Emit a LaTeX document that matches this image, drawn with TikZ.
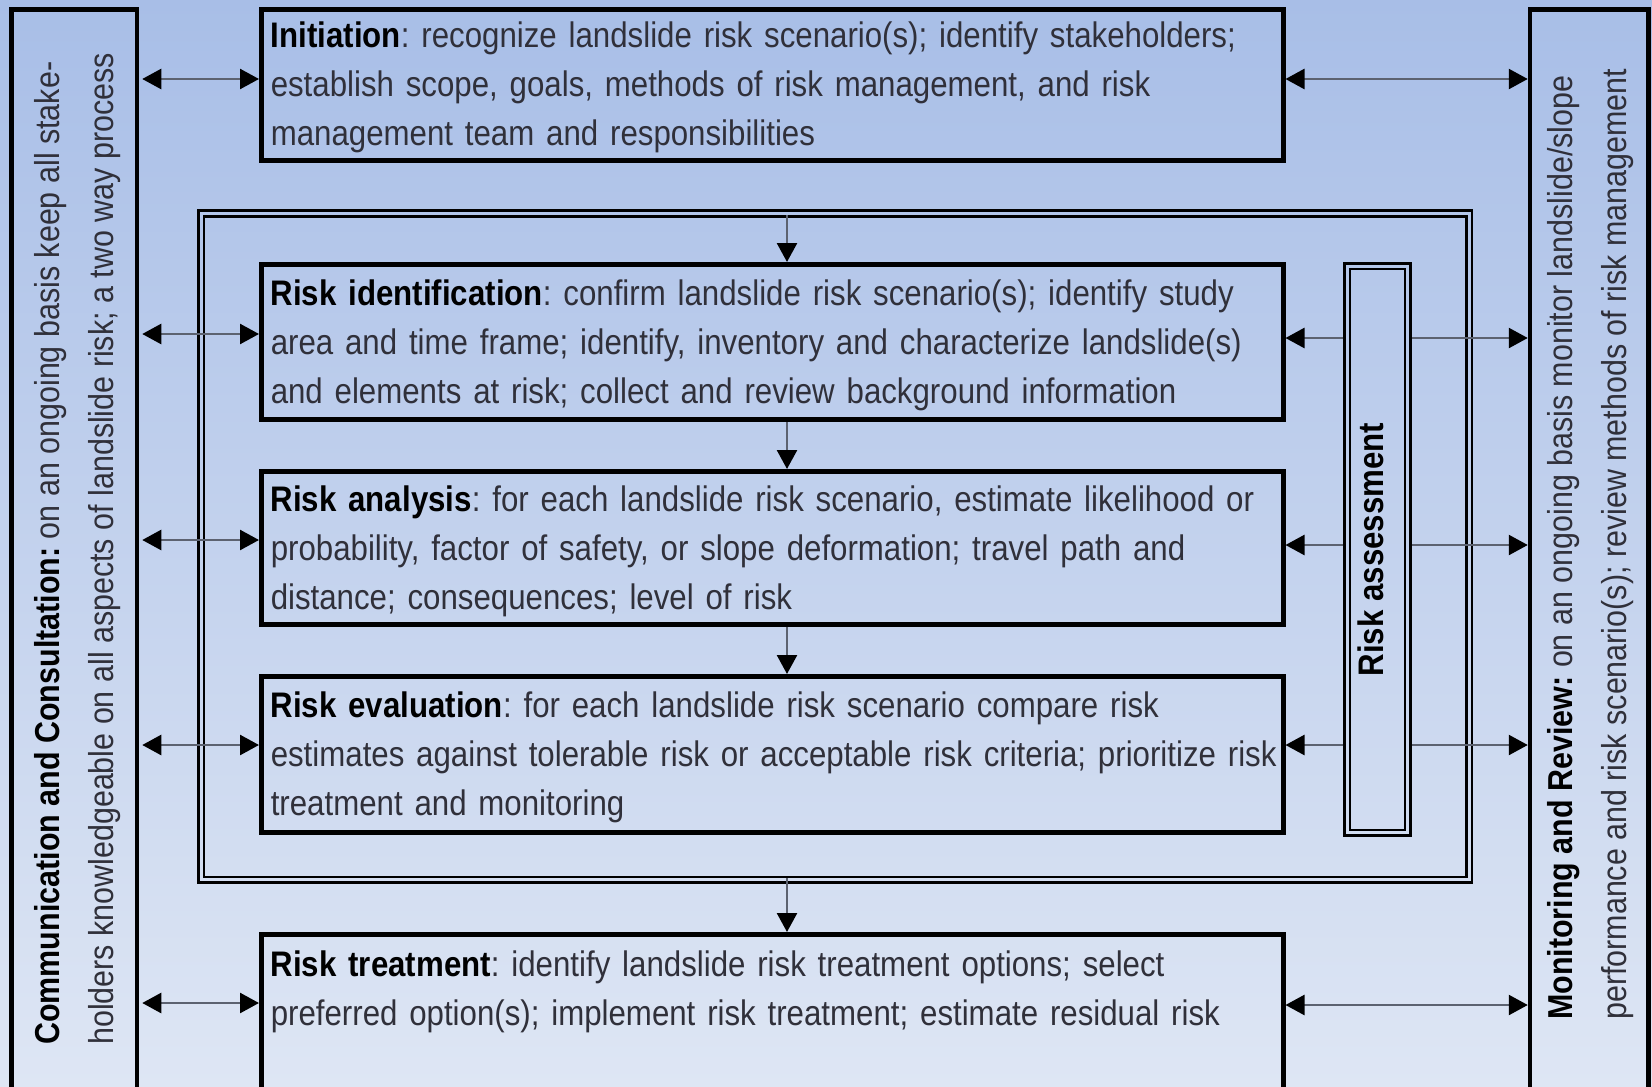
\documentclass[tikz,border=0pt]{standalone}
\usepackage{fontspec}
\setmainfont{Liberation Sans}[FakeStretch=0.88]
\usepackage{graphicx}
\usetikzlibrary{arrows.meta}
\definecolor{bgtop}{RGB}{168,190,231}
\definecolor{bgbot}{RGB}{222,230,244}
\definecolor{txt}{RGB}{48,48,58}
\definecolor{arrgray}{RGB}{92,98,112}
\newcommand\hd[1]{\textcolor{black}{\textbf{#1}}}
\newcommand\oneline[1]{\mbox{#1}}
\frenchspacing
\begin{document}
\begin{tikzpicture}[x=1pt,y=-1pt,
  stagebox/.style={draw=black, line width=5pt, minimum width=1021.5pt, text width=1003pt,
    inner xsep=9.25pt, inner ysep=0pt, align=left, text=txt,
    font=\frenchspacing\fontsize{35.5}{49}\selectfont},
  threeline/.style={text height=26pt, text depth=100pt},
  colbox/.style={draw=black, line width=4.5pt, minimum height=1110.5pt, inner sep=0pt},
  sidetext/.style={rotate=90, anchor=base west, inner sep=0pt, align=left, text=txt,
    font=\frenchspacing\fontsize{34.6}{54}\selectfont},
  linkboth/.style={draw=arrgray, line width=2.5pt,
    {Triangle[length=19pt,width=20pt,color=black]}-{Triangle[length=19pt,width=20pt,color=black]}},
  linkto/.style={draw=arrgray, line width=2.5pt, -{Triangle[length=19pt,width=20pt,color=black]}},
]
\useasboundingbox (0,0) rectangle (1652,1087);
\clip (0,0) rectangle (1652,1087);
\shade[top color=bgtop, bottom color=bgbot] (0,0) rectangle (1652,1087);

% side columns
\node[colbox, minimum width=125.5pt] (comm) at (74.25,564.75) {};
\node[colbox, minimum width=118.5pt] (mon) at (1589.25,564.75) {};
% anchor base = baseline of the last line
\node[sidetext] (commtext) at (113,1045) {\hd{Communication and Consultation:} on an ongoing basis keep all stake-\\holders knowledgeable on all aspects of landslide risk; a two way process};
\node[sidetext] (montext) at (1626,1020) {\hd{Monitoring and Review:} on an ongoing basis monitor landslide/slope\\performance and risk scenario(s); review methods of risk management};

% double frame around assessment stages
\node[draw=black, line width=2.8pt, minimum width=1262.5pt, minimum height=660.5pt, inner sep=0pt] (frame) at (835.25,546.75) {};
\draw[line width=2.8pt] (frame.center) +(-636.75,-336) rectangle +(636.75,336);

% risk assessment double box
\node[draw=black, line width=2.5pt, minimum width=66pt, minimum height=572pt, inner sep=0pt,
  font=\fontsize{35.5}{40}\selectfont, text=black] (assess) at (1377.5,549.5)
  {\rotatebox{90}{\textbf{Risk assessment}}\hspace*{14pt}};
\draw[line width=2.5pt] (assess.center) +(-27.5,-280.5) rectangle +(27.5,280.5);

% stage boxes
\node[stagebox, threeline, minimum height=151.5pt] (init) at (772.25,84.75) {\oneline{\hd{Initiation}: recognize landslide risk scenario(s); identify stakeholders;}\\\oneline{establish scope, goals, methods of risk management, and risk}\\\oneline{management team and responsibilities}};
\node[stagebox, threeline, minimum height=155pt] (ident) at (772.25,342) {\oneline{\hd{Risk identification}: confirm landslide risk scenario(s); identify study}\\\oneline{area and time frame; identify, inventory and characterize landslide(s)}\\\oneline{and elements at risk; collect and review background information}};
\node[stagebox, threeline, minimum height=153pt] (anal) at (772.25,548) {\oneline{\hd{Risk analysis}: for each landslide risk scenario, estimate likelihood or}\\\oneline{probability, factor of safety, or slope deformation; travel path and}\\\oneline{distance; consequences; level of risk}};
\node[stagebox, threeline, minimum height=156pt] (eval) at (772.25,754.5) {\oneline{\hd{Risk evaluation}: for each landslide risk scenario compare risk}\\\oneline{estimates against tolerable risk or acceptable risk criteria; prioritize risk}\\\oneline{treatment and monitoring}};
\node[stagebox, minimum height=175.5pt, text height=42pt, text depth=133.5pt, anchor=north] (treat) at (772.25,932) {\oneline{\hd{Risk treatment}: identify landslide risk treatment options; select}\\\oneline{preferred option(s); implement risk treatment; estimate residual risk}};

% connectors
\coordinate (ax) at (787,0);
\draw[linkto] (frame.north -| ax) -- (ident.north -| ax);
\draw[linkto] (ident.south -| ax) -- (anal.north -| ax);
\draw[linkto] (anal.south -| ax) -- (eval.north -| ax);
\draw[linkto] (frame.south -| ax) -- (treat.north -| ax);

\coordinate (l1) at (0,79);   \coordinate (r1) at (0,79);
\coordinate (l2) at (0,334);  \coordinate (r2) at (0,338);
\coordinate (l3) at (0,540);  \coordinate (r3) at (0,545);
\coordinate (l4) at (0,745);  \coordinate (r4) at (0,745);
\coordinate (l5) at (0,1003); \coordinate (r5) at (0,1005);

\draw[linkboth, shorten <=3pt] (comm.east |- l1) -- (init.west |- l1);
\draw[linkboth, shorten <=3pt] (comm.east |- l2) -- (ident.west |- l2);
\draw[linkboth, shorten <=3pt] (comm.east |- l3) -- (anal.west |- l3);
\draw[linkboth, shorten <=3pt] (comm.east |- l4) -- (eval.west |- l4);
\draw[linkboth, shorten <=3pt] (comm.east |- l5) -- (treat.west |- l5);

\draw[linkboth] (init.east |- r1) -- (mon.west |- r1);
\draw[linkto] (assess.west |- r2) -- (ident.east |- r2);
\draw[linkto] (assess.east |- r2) -- (mon.west |- r2);
\draw[linkto] (assess.west |- r3) -- (anal.east |- r3);
\draw[linkto] (assess.east |- r3) -- (mon.west |- r3);
\draw[linkto] (assess.west |- r4) -- (eval.east |- r4);
\draw[linkto] (assess.east |- r4) -- (mon.west |- r4);
\draw[linkboth] (treat.east |- r5) -- (mon.west |- r5);
\end{tikzpicture}
\end{document}
